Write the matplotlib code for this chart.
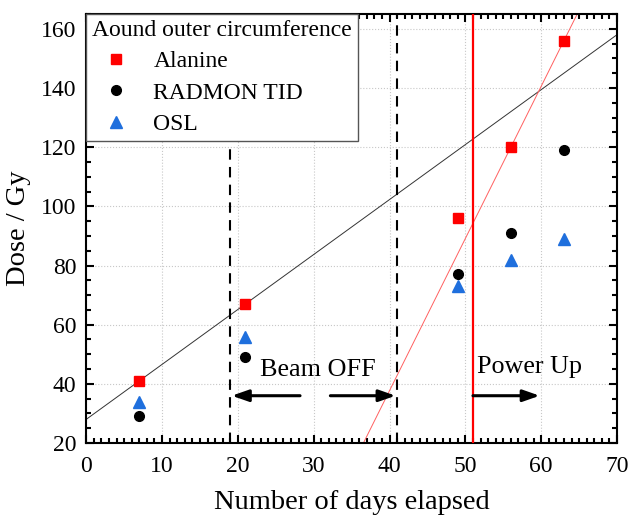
import numpy as np
import matplotlib
matplotlib.use('Agg')
import matplotlib.pyplot as plt
from matplotlib.ticker import MultipleLocator

# data
days = [7, 21, 49, 56, 63]
alanine = [41, 67, 96, 120, 156]
radmon = [29, 49, 77, 91, 119]
osl = [34, 56, 73, 82, 89]

beam_off = [19, 41]
power_up = 51

plt.rcParams['font.family'] = ['Liberation Serif', 'DejaVu Serif']

fig = plt.figure(figsize=(6.29, 5.17), dpi=100)
ax = fig.add_axes([0.137, 0.143, 0.844, 0.83])

ax.set_xlim(0, 70)
ax.set_ylim(20, 165)

# grid at major ticks
ax.grid(True, which='major', linestyle=':', color='#c8c8c8', linewidth=0.8, zorder=0)

# linear trend through the first two alanine points (black) and last two (red)
p1 = np.polyfit(days[:2], alanine[:2], 1)
xx = np.array([0, 70])
ax.plot(xx, np.polyval(p1, xx), color='#333333', linewidth=0.7, zorder=2)
p2 = np.polyfit(days[-2:], alanine[-2:], 1)
ax.plot(xx, np.polyval(p2, xx), color='#ff6060', linewidth=0.7, zorder=2)

# phase markers
for xv in beam_off:
    ax.axvline(xv, color='black', linestyle=(0, (5, 3.5)), linewidth=1.5, zorder=3)
ax.axvline(power_up, color='#ff0000', linewidth=1.6, zorder=3)

ax.plot(days, alanine, 's', color='#ff0000', markersize=7, label='Alanine', zorder=5)
ax.plot(days, radmon, 'o', color='black', markersize=7, label='RADMON TID', zorder=5)
ax.plot(days, osl, '^', color='#1f6fdd', markersize=8, label='OSL', zorder=5)

arrow = dict(arrowstyle='-|>,head_length=1.0,head_width=0.35', color='black', lw=2.2,
             shrinkA=0, shrinkB=0)
ax.annotate('', xy=(19.2, 36), xytext=(28.2, 36), arrowprops=arrow, zorder=6)
ax.annotate('', xy=(40.8, 36), xytext=(32.2, 36), arrowprops=arrow, zorder=6)
ax.annotate('', xy=(59.8, 36), xytext=(51, 36), arrowprops=arrow, zorder=6)
ax.text(30.5, 44.7, 'Beam OFF', fontsize=18.8, ha='center', va='center')
ax.text(51.5, 45.7, 'Power Up', fontsize=18.8, ha='left', va='center')

ax.xaxis.set_major_locator(MultipleLocator(10))
ax.xaxis.set_minor_locator(MultipleLocator(1))
ax.yaxis.set_major_locator(MultipleLocator(20))
ax.yaxis.set_minor_locator(MultipleLocator(5))
ax.tick_params(which='both', direction='in', top=True, right=True, labelsize=17, width=1.5)
ax.tick_params(which='major', length=6)
ax.tick_params(which='minor', length=3.5)
ax.tick_params(axis='x', which='major', pad=9)
ax.tick_params(axis='y', which='major', pad=7)
for s in ax.spines.values():
    s.set_linewidth(1.5)

ax.set_xlabel('Number of days elapsed', fontsize=20.5, labelpad=10)
ax.set_ylabel('Dose / Gy', fontsize=20.5, labelpad=7)

leg = ax.legend(title='Aound outer circumference', loc='upper left', fontsize=17,
                title_fontsize=17, frameon=True, fancybox=False, edgecolor='#555555',
                framealpha=1, borderaxespad=0, handletextpad=0.6, borderpad=0.25,
                labelspacing=0.42, handlelength=2.0)
leg._legend_box.align = 'left'
leg.get_frame().set_linewidth(1.0)
leg.set_zorder(10)

fig.savefig('out.png', dpi=100)
